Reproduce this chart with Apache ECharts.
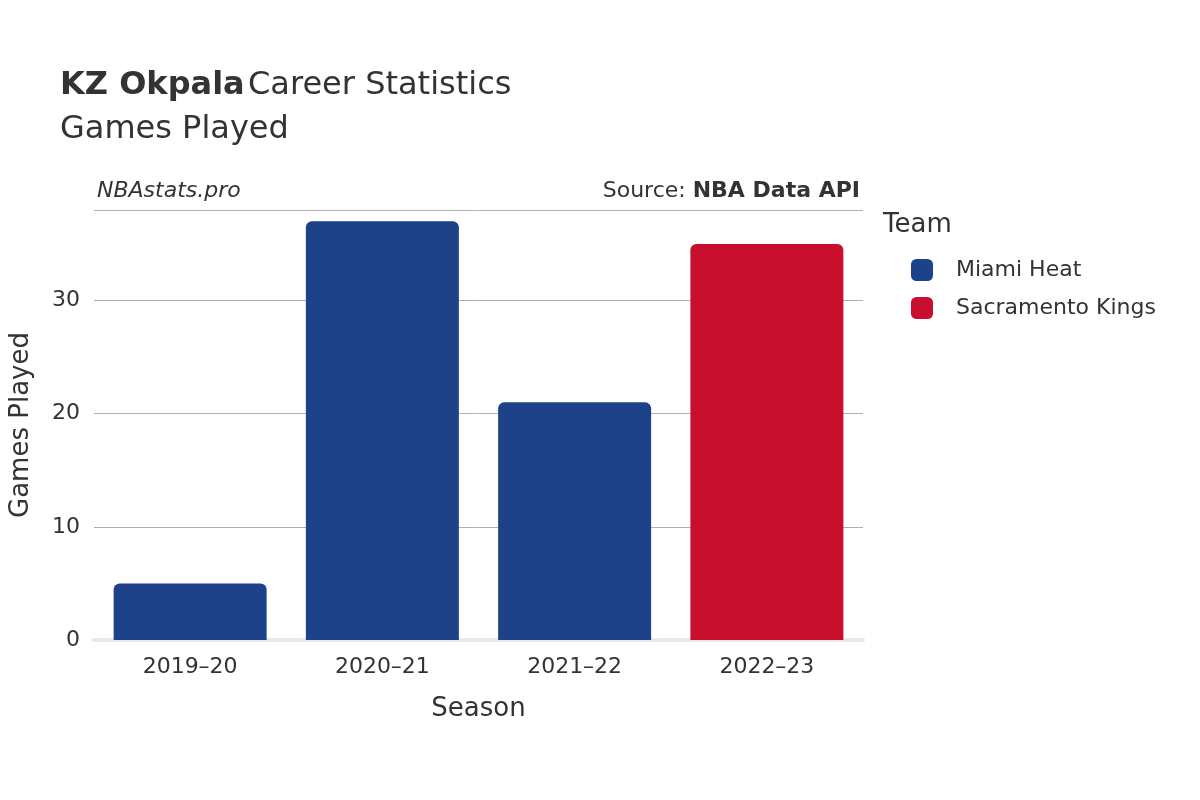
<!DOCTYPE html>
<html><head><meta charset="utf-8">
<script src="https://cdn.jsdelivr.net/npm/echarts@6/dist/echarts.min.js"></script>
<style>html,body{margin:0;padding:0;background:#fff}#c{width:1200px;height:800px}</style>
</head><body><div id="c"></div>
<script>
const seasons = ['2019–20','2020–21','2021–22','2022–23'];
const miami = [5, 37, 21, '-'];
const kings = ['-', '-', '-', 35];
const yTicks = [0, 10, 20, 30];
const F = 'DejaVu Sans';
const chart = echarts.init(document.getElementById('c'));
chart.setOption({
  animation: false,
  textStyle: {fontFamily: F},
  graphic: [
    {type:'text', left:60, top:70, style:{rich:{b:{fontWeight:'bold',fontSize:32,fill:'#333',fontFamily:F},n:{fontSize:32,fill:'#333',fontFamily:F}}, text:'{b|KZ Okpala} {n|Career Statistics}'}},
    {type:'text', left:60, top:114, style:{text:'Games Played', fontSize:32, fill:'#333', fontFamily:F}},
    {type:'text', left:97, top:180, style:{text:'NBAstats.pro', fontSize:22, fontStyle:'italic', fill:'#333', fontFamily:F}},
    {type:'text', right:340, top:180, style:{rich:{n:{fontSize:22,fill:'#333',fontFamily:F},b:{fontSize:22,fontWeight:'bold',fill:'#333',fontFamily:F}}, text:'{n|Source: }{b|NBA Data API}', align:'right'}},
    {type:'text', left:883, top:212, style:{text:'Team', fontSize:26, fill:'#333', fontFamily:F}}
  ],
  legend: {orient:'vertical', left:906, top:254, itemGap:16, itemWidth:22, itemHeight:22, icon:'roundRect',
    textStyle:{fontSize:22, color:'#333', padding:[0,0,0,18]}, data:['Miami Heat','Sacramento Kings']},
  grid: {left:93, right:337, top:210, bottom:160},
  xAxis: {type:'category', data:seasons, name:'Season', nameLocation:'middle', nameGap:56,
    nameTextStyle:{fontSize:26,color:'#333'},
    axisLine:{lineStyle:{color:'#e8e8ec', width:4}}, axisTick:{show:false},
    axisLabel:{fontSize:22, color:'#333', margin:16}},
  yAxis: {type:'value', min:0, max:38, interval:10, name:'Games Played', nameLocation:'middle', nameGap:60,
    nameTextStyle:{fontSize:26,color:'#333'},
    axisLabel:{fontSize:22, color:'#333', margin:14, formatter:v=>yTicks.includes(v)?String(v):''},
    splitLine:{lineStyle:{color:'#b0b0b0', width:1}}, axisLine:{show:false}, axisTick:{show:false}},
  series: [
    {name:'Miami Heat', type:'bar', stack:'s', data:miami, barWidth:153, itemStyle:{color:'#1d428a', borderRadius:[6,6,0,0]}},
    {name:'Sacramento Kings', type:'bar', stack:'s', data:kings, barWidth:153, itemStyle:{color:'#c8102e', borderRadius:[6,6,0,0]}}
  ]
});
</script></body></html>
